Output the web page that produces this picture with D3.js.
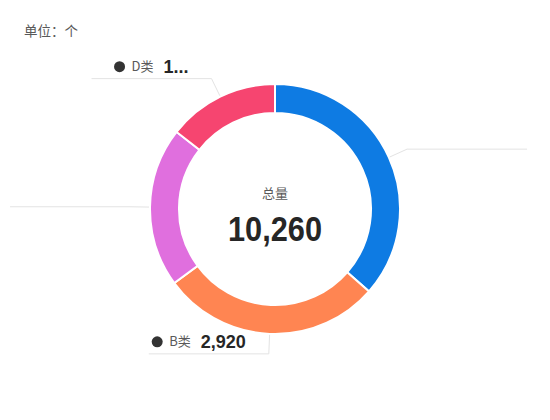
<!DOCTYPE html>
<html>
<head>
<meta charset="utf-8">
<script src="https://cdn.jsdelivr.net/npm/d3@7"></script>
<style>
  body { margin: 0; background: #fff; }
  svg { display: block; font-family: "Noto Sans CJK SC", "Liberation Sans", sans-serif; }
</style>
</head>
<body>
<svg width="550" height="420"></svg>
<script>
// chart data
const categories = ['A类', 'B类', 'C类', 'D类'];
const values = [3740, 2920, 2120, 1480];
const colors = ['#0E7BE3', '#FF8552', '#E06FDE', '#F64570'];
// which labels survive the layout, and the ones that got cut short
const shownLabels = ['B类', 'D类'];
const clippedLabels = ['D类'];
const unitText = '单位：个';
const totalTitle = '总量';

const svg = d3.select('svg');
const cx = 275, cy = 209, outer = 125, inner = 96;
const numFont = '"Liberation Sans", Arial, sans-serif';

svg.append('text')
  .attr('x', 24).attr('y', 36)
  .attr('fill', '#595959').attr('font-size', 13.5)
  .text(unitText);

const data = categories.map((c, i) => ({ name: c, value: values[i], color: colors[i] }));
const total = d3.sum(values);

const pie = d3.pie().sort(null).value((d) => d.value);
const arc = d3.arc().innerRadius(inner).outerRadius(outer);
const arcs = pie(data);

const g = svg.append('g').attr('transform', 'translate(' + cx + ',' + cy + ')');

g.selectAll('path.slice')
  .data(arcs)
  .join('path')
  .attr('class', 'slice')
  .attr('d', arc)
  .attr('fill', (d) => d.data.color)
  .attr('stroke', '#fff')
  .attr('stroke-width', 2);

// connector lines: out from the ring, then a flat run of ~120px
const fmt = d3.format(',');
const pt = (a, r) => [Math.sin(a) * r, -Math.cos(a) * r];

arcs.forEach((d) => {
  const mid = (d.startAngle + d.endAngle) / 2;
  const p0 = pt(mid, outer + 1);
  const p1 = pt(mid, outer + 20);
  const right = Math.sin(mid) > 0.001;
  const p2 = [p1[0] + (right ? 120 : -120), p1[1]];

  g.append('polyline')
    .attr('points', [p0, p1, p2].map((p) => p.join(',')).join(' '))
    .attr('fill', 'none')
    .attr('stroke', '#e3e3e3')
    .attr('stroke-width', 1);

  if (!shownLabels.includes(d.data.name)) { return; }

  const valText = clippedLabels.includes(d.data.name) ? String(d.data.value)[0] + '...' : fmt(d.data.value);
  const lab = g.append('g')
    .attr('transform', 'translate(' + (p1[0] + (right ? 23 : -23)) + ',' + (p1[1] - 12) + ')');

  const num = lab.append('text')
    .attr('text-anchor', right ? 'start' : 'end')
    .attr('dy', '0.35em')
    .attr('fill', '#262626')
    .attr('font-size', 18)
    .attr('font-weight', 'bold')
    .attr('font-family', numFont)
    .text(valText);
  const nw = num.node().getComputedTextLength();

  const name = lab.append('text')
    .attr('x', -nw - 10)
    .attr('text-anchor', 'end')
    .attr('dy', '0.35em')
    .attr('fill', '#595959')
    .attr('font-size', 13)
    .text(d.data.name);
  const tw = name.node().getComputedTextLength();

  lab.append('circle')
    .attr('cx', -nw - 10 - tw - 12)
    .attr('cy', 0)
    .attr('r', 5.5)
    .attr('fill', '#333');
});

// centre text
g.append('text')
  .attr('y', -11)
  .attr('text-anchor', 'middle')
  .attr('fill', '#595959')
  .attr('font-size', 13)
  .text(totalTitle);

g.append('text')
  .attr('y', 32)
  .attr('text-anchor', 'middle')
  .attr('fill', '#262626')
  .attr('font-size', 35)
  .attr('font-weight', 'bold')
  .attr('font-family', numFont)
  .attr('textLength', 94)
  .attr('lengthAdjust', 'spacingAndGlyphs')
  .text(fmt(total));
</script>
</body>
</html>
